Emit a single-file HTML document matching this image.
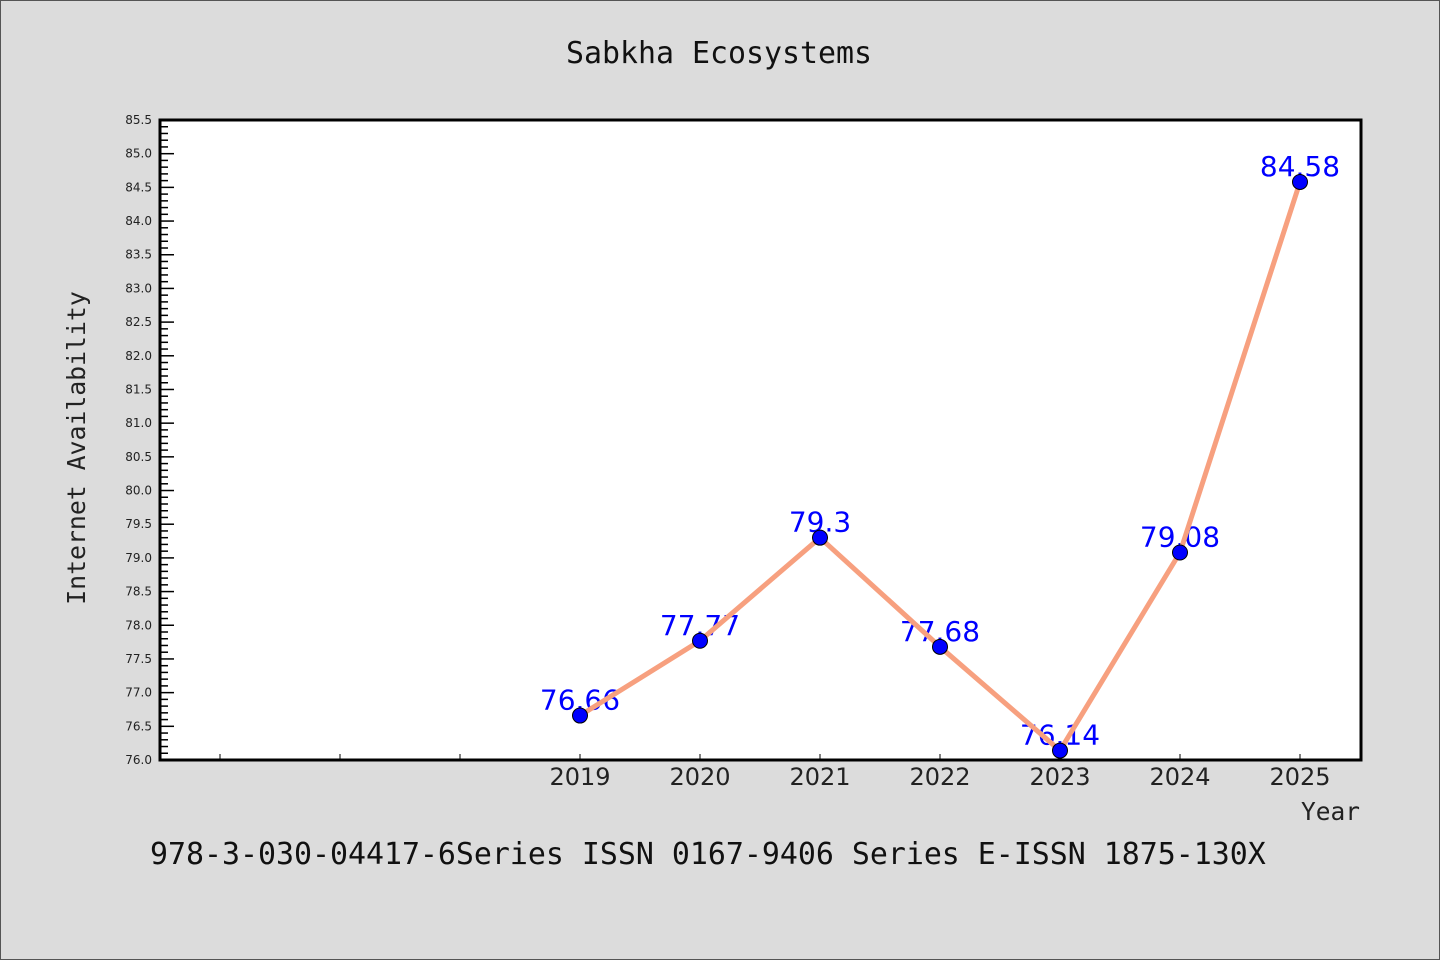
<!DOCTYPE html>
<html><head><meta charset="utf-8"><style>
body{margin:0;background:#dcdcdc;}
svg{display:block;}
</style></head><body>
<svg id="chart" width="1440" height="960" xmlns="http://www.w3.org/2000/svg">
<rect x="0.5" y="0.5" width="1439" height="959" fill="#dcdcdc" stroke="#555"/>
<text x="719" y="63" text-anchor="middle" font-family="'DejaVu Sans Mono',monospace" font-size="29.9" fill="#111">Sabkha Ecosystems</text>
<rect x="160" y="120" width="1201" height="640" fill="#fff"/>
<g id="yticks"></g>
<g id="xticks"></g>
<g id="labels"></g>
<g id="series"></g>
<rect x="160" y="120" width="1201" height="640" fill="none" stroke="#000" stroke-width="3"/>
<text transform="translate(85,448) rotate(-90)" text-anchor="middle" font-family="'DejaVu Sans Mono',monospace" font-size="24.8" fill="#222">Internet Availability</text>
<text x="1360" y="820" text-anchor="end" font-family="'DejaVu Sans Mono',monospace" font-size="24.5" fill="#222">Year</text>
<text x="150" y="864" font-family="'DejaVu Sans Mono',monospace" font-size="29.9" fill="#111">978-3-030-04417-6Series ISSN 0167-9406 Series E-ISSN 1875-130X</text>
</svg>
<script>
const categories = ["", "", "", "2019", "2020", "2021", "2022", "2023", "2024", "2025"];
const values = [null, null, null, 76.66, 77.77, 79.3, 77.68, 76.14, 79.08, 84.58];
const valueLabels = ["", "", "", "76.66", "77.77", "79.3", "77.68", "76.14", "79.08", "84.58"];
const yTickLabels = ["76.0","76.5","77.0","77.5","78.0","78.5","79.0","79.5","80.0","80.5","81.0","81.5","82.0","82.5","83.0","83.5","84.0","84.5","85.0","85.5"];
const yMin = 76.0, yMax = 85.5;
const NS = "http://www.w3.org/2000/svg";
function xPos(i){ return 220 + 120 * i; }
function yPos(v){ return 760 - (v - yMin) / (yMax - yMin) * 640; }
function mk(tag, attrs, parent){ const e=document.createElementNS(NS,tag); for(const k in attrs) e.setAttribute(k, attrs[k]); parent.appendChild(e); return e; }
const yt=document.getElementById('yticks'), xt=document.getElementById('xticks'), lb=document.getElementById('labels'), sr=document.getElementById('series');
for (let k=0; k<=95; k++){
  const v = yMin + k*0.1, y = yPos(v), major = k%5===0;
  const t = mk('line',{x1:160,x2:160+(major?14:8),y1:y,y2:y,stroke:'#000','stroke-width':1.5},yt);
  
  
}
yTickLabels.forEach(s=>{
  const tx = mk('text',{x:152,y:yPos(parseFloat(s))+4,'text-anchor':'end','font-family':"'DejaVu Sans',sans-serif",'font-size':12,fill:'#222'},yt);
  tx.textContent=s;
  
  
});
categories.forEach((c,i)=>{
  const x=xPos(i);
  const t = mk('line',{x1:x,x2:x,y1:760,y2:754,stroke:'#000','stroke-width':1},xt);
  
  
  if(c){
    const tx = mk('text',{x:x,y:785,'text-anchor':'middle','font-family':"'DejaVu Sans',sans-serif",'font-size':24,fill:'#222'},xt);
    tx.textContent=c;
    
    
  }
});
const pts=[];
values.forEach((v,i)=>{ if(v!==null){ pts.push([xPos(i),yPos(v)]);
  const tx = mk('text',{x:xPos(i),y:yPos(v)-6,'text-anchor':'middle','font-family':"'DejaVu Sans',sans-serif",'font-size':28,fill:'#0000ff'},lb);
  tx.textContent=valueLabels[i];
  
  
}});
const pl = mk('polyline',{points:pts.map(p=>p.join(',')).join(' '),fill:'none',stroke:'#f7a07f','stroke-width':5,'stroke-linejoin':'round'},sr);


pts.forEach(p=>{
  const c = mk('circle',{cx:p[0],cy:p[1],r:7.5,fill:'#0000ff',stroke:'#000','stroke-width':1},sr);
  
  
});
</script>
</body></html>
